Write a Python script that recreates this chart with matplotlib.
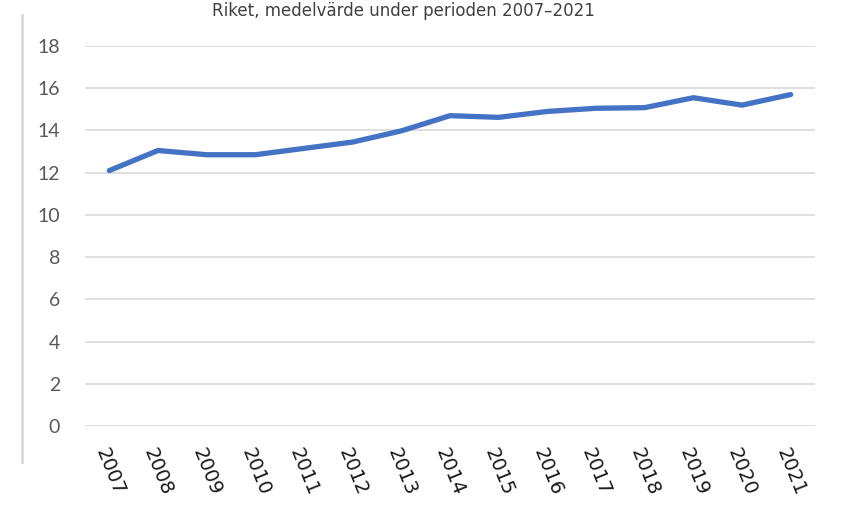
import matplotlib
matplotlib.use("Agg")
import matplotlib.pyplot as plt
from matplotlib.lines import Line2D

years = ["2007", "2008", "2009", "2010", "2011", "2012", "2013", "2014",
         "2015", "2016", "2017", "2018", "2019", "2020", "2021"]
values = [12.1, 13.05, 12.85, 12.85, 13.15, 13.45, 13.98, 14.7,
          14.62, 14.9, 15.05, 15.08, 15.55, 15.2, 15.7]
title = "Riket, medelvärde under perioden 2007–2021"

W, H = 849, 514
fig = plt.figure(figsize=(W / 100, H / 100), dpi=100)
ax = fig.add_axes([85 / W, 1 - 426 / H, (815 - 85) / W, (426 - 46) / H])

x = list(range(len(years)))
ax.plot(x, values, color="#4472C4", linewidth=3.8, solid_capstyle="round",
        solid_joinstyle="round", zorder=3)
ax.set_xlim(-0.5, len(years) - 0.5)
ax.set_ylim(0, 18)
ax.set_yticks(range(0, 19, 2))
ax.set_xticks(x)
ax.set_xticklabels(years, rotation=-68, ha="left", va="top",
                   rotation_mode="anchor", fontsize=14, color="#1a1a1a")
for lbl in ax.get_yticklabels():
    lbl.set_family("Lato")
ax.tick_params(axis="y", labelsize=14, labelcolor="#595959", length=0, pad=18)
ax.tick_params(axis="x", length=0, pad=14)
for lbl in ax.get_yticklabels():
    lbl.set_family("Lato")
ax.grid(axis="y", color="#D9D9D9", linewidth=1.2)
ax.set_axisbelow(True)
for s in ax.spines.values():
    s.set_visible(False)

fig.text(0.475, 1.0 - 2 / H, title, ha="center", va="top",
         fontsize=12, color="#404040")
fig.add_artist(Line2D([22 / W, 22 / W], [1 - 15 / H, 1 - 462 / H],
                      color="#DADADA", linewidth=2))

fig.savefig("out.png", dpi=100)
